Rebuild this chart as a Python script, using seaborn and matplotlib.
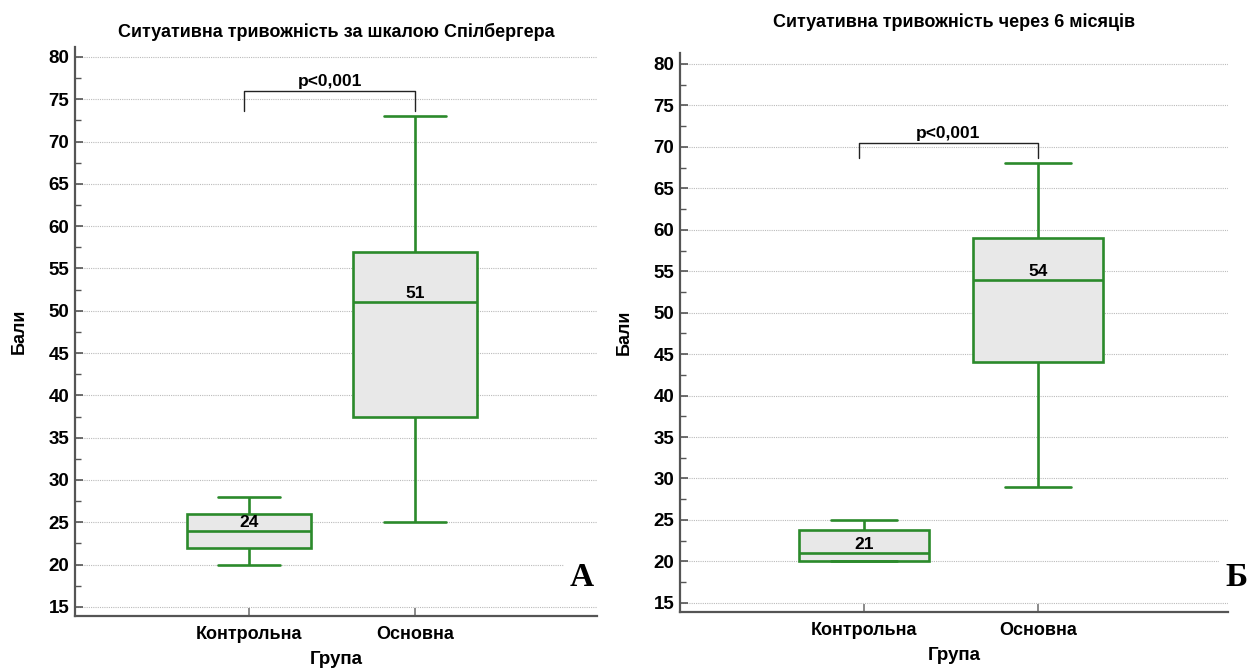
import matplotlib
matplotlib.use("Agg")
import matplotlib.pyplot as plt
import seaborn as sns
import pandas as pd
from matplotlib.ticker import MultipleLocator

sns.set_theme(style="white")
plt.rcParams['font.family'] = ['Liberation Sans', 'DejaVu Sans']
plt.rcParams['text.color'] = 'black'
plt.rcParams['axes.labelcolor'] = 'black'
plt.rcParams['xtick.labelcolor'] = 'black'
plt.rcParams['ytick.labelcolor'] = 'black'

groups = ["Контрольна", "Основна"]
# five-number summaries [min, Q1, median, Q3, max]
panel_a = {"Контрольна": [20, 22, 24, 26, 28], "Основна": [25, 37.5, 51, 57, 73]}
panel_b = {"Контрольна": [20, 20, 21, 23.75, 25], "Основна": [29, 44, 54, 59, 68]}
titles = ["Ситуативна тривожність за шкалою Спілбергера", "Ситуативна тривожність через 6 місяців"]
panel_letters = ["А", "Б"]
p_text = "p<0,001"
bracket_y = [(76, 73.6), (70.5, 68.7)]
yticks = list(range(15, 85, 5))

GREEN = "#2b8a2b"
W, H = 1251, 670
fig = plt.figure(figsize=(W / 100, H / 100), dpi=100)

rects = [(75, 47, 597, 616), (680, 53, 1228, 612)]
title_pads = [7, 19]
letter_pos = [(582, 577), (1236, 577)]

for i, (summ, (l, t, r, b)) in enumerate(zip([panel_a, panel_b], rects)):
    ax = fig.add_axes([l / W, 1 - b / H, (r - l) / W, (b - t) / H])
    rows = []
    for g in groups:
        for v in summ[g]:
            rows.append({"Група": g, "Бали": v})
    df = pd.DataFrame(rows)
    sns.boxplot(data=df, x="Група", y="Бали", order=groups, whis=(0, 100), width=0.75,
                color="#e8e8e8", linecolor=GREEN, linewidth=1.9, ax=ax,
                boxprops=dict(facecolor="#e8e8e8", edgecolor=GREEN),
                medianprops=dict(color=GREEN), whiskerprops=dict(color=GREEN),
                capprops=dict(color=GREEN), showfliers=False)
    # axes ranges
    px = 8.46 if i == 0 else 8.29
    y80 = 57 if i == 0 else 64
    ax.set_ylim(80 - (b - y80) / px, 80 + (y80 - t) / px)
    c0 = 249 if i == 0 else 864
    sp = 166 if i == 0 else 174
    ax.set_xlim(-(c0 - l) / sp, (r - l) / sp - (c0 - l) / sp)
    ax.set_yticks(yticks)
    ax.yaxis.set_minor_locator(MultipleLocator(2.5))
    ax.grid(axis="y", which="major", linestyle=(0, (1, 1)), color="#bbbbbb", linewidth=0.8)
    ax.set_axisbelow(True)
    for s in ["top", "right"]:
        ax.spines[s].set_visible(False)
    for s in ["left", "bottom"]:
        ax.spines[s].set_color("#555555")
        ax.spines[s].set_linewidth(1.6)
    ax.tick_params(axis="y", which="major", direction="in", length=6, width=1.2, color="#555555",
                   labelsize=13.5, pad=4, left=True)
    ax.tick_params(axis="y", which="minor", direction="in", length=4, width=1.0, color="#555555", left=True)
    ax.tick_params(axis="x", which="major", direction="in", length=6, width=1.2, color="#777777",
                   labelsize=13, pad=7, bottom=True)
    for lab in ax.get_yticklabels() + ax.get_xticklabels():
        lab.set_fontweight("bold")
    ax.set_ylabel("Бали", fontsize=13, fontweight="bold", labelpad=15)
    ax.set_xlabel("Група", fontsize=13.5, fontweight="bold", labelpad=6)
    ax.set_title(titles[i], fontsize=13, fontweight="bold", pad=title_pads[i], color="black")
    # median labels
    for j, g in enumerate(groups):
        ax.text(j, summ[g][2] + 0.1, f"{summ[g][2]:g}", ha="center", va="bottom",
                fontsize=12.5, fontweight="bold", color="black")
    # significance bracket
    yb, yl = bracket_y[i]
    x0, x1 = -0.03, 1.0
    ax.plot([x0, x0, x1, x1], [yl, yb, yb, yl], color="#222222", linewidth=1.0, clip_on=False)
    ax.text((x0 + x1) / 2, yb + 0.25, p_text, ha="center", va="bottom", fontsize=12.5, fontweight="bold")
    # panel letter
    fig.text(letter_pos[i][0] / W, 1 - letter_pos[i][1] / H, panel_letters[i], ha="center", va="center",
             fontsize=24, fontweight="bold", family=["Liberation Serif", "DejaVu Serif"], color="black",
             bbox=dict(facecolor="white", edgecolor="none", pad=4))

fig.savefig("out.png", dpi=100)
